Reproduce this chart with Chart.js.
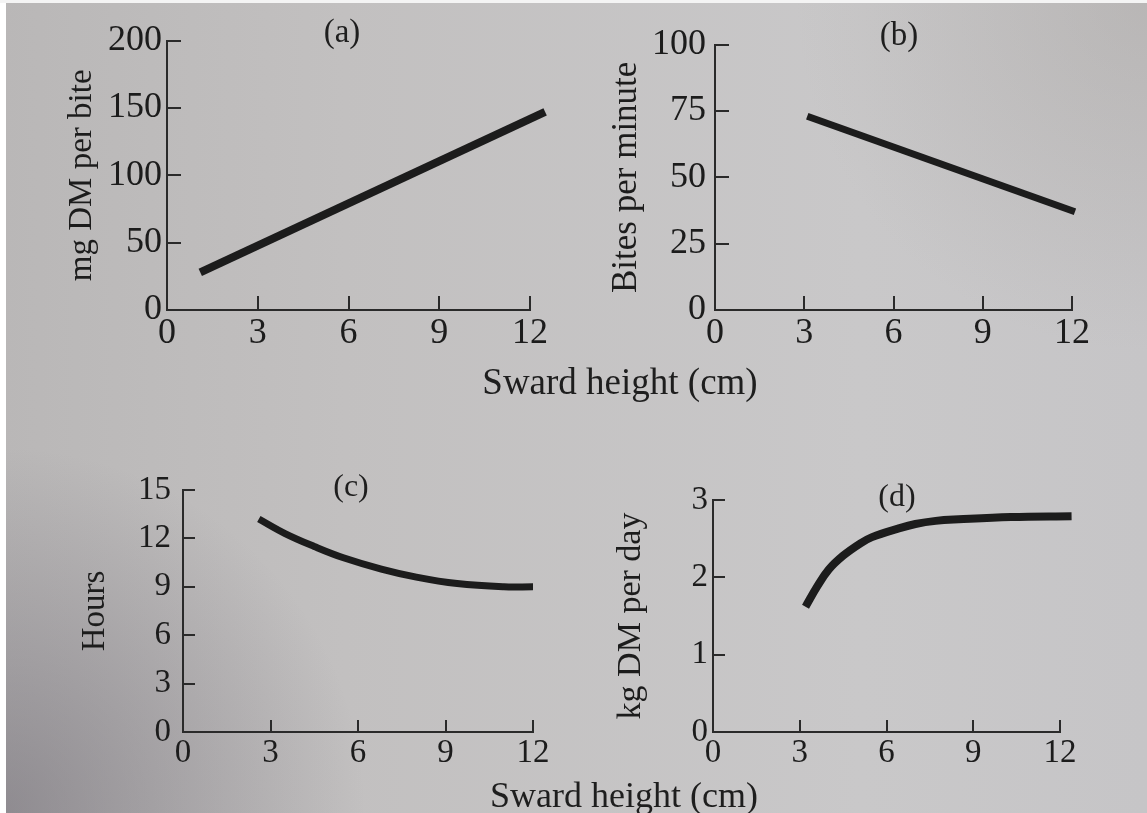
<!DOCTYPE html>
<html>
<head>
<meta charset="utf-8">
<title>Sward height panels</title>
<script src="https://cdn.jsdelivr.net/npm/chart.js@4.4.1/dist/chart.umd.min.js"></script>
<style>
  html, body { margin: 0; padding: 0; }
  #page {
    position: relative;
    width: 1147px;
    height: 813px;
    overflow: hidden;
    background:
      radial-gradient(circle at 0% 100%, rgba(100, 95, 105, 0.5), rgba(100, 95, 105, 0) 26%),
      radial-gradient(circle at 100% 0%, rgba(160, 155, 150, 0.35), rgba(160, 155, 150, 0) 25%),
      linear-gradient(to right, #b9b7b7 0%, #c2c0c0 30%, #c9c8c9 75%, #c6c5c7 100%);
  }
  #page::before {
    content: '';
    position: absolute;
    left: 0; top: 0; bottom: 0;
    width: 6px;
    background: #fff;
  }
  #page::after {
    content: '';
    position: absolute;
    left: 0; top: 0; right: 0;
    height: 3px;
    background: #f4f4f4;
  }
  canvas { position: absolute; left: 0; top: 0; pointer-events: none; }
  .txt {
    position: absolute;
    transform: translate(-50%, -50%);
    font-family: "Liberation Serif", "DejaVu Serif", serif;
    color: #1e1e1e;
    white-space: nowrap;
  }
</style>
</head>
<body>
<div id="page">
  <canvas id="chartA" width="1147" height="813"></canvas>
  <canvas id="chartB" width="1147" height="813"></canvas>
  <canvas id="chartC" width="1147" height="813"></canvas>
  <canvas id="chartD" width="1147" height="813"></canvas>
  <div class="txt" style="left:342px; top:31px; font-size:33px;">(a)</div>
  <div class="txt" style="left:899px; top:34px; font-size:33px;">(b)</div>
  <div class="txt" style="left:351px; top:485px; font-size:32px;">(c)</div>
  <div class="txt" style="left:897px; top:495px; font-size:32px;">(d)</div>
  <div class="txt" style="left:620px; top:381px; font-size:37px;">Sward height (cm)</div>
  <div class="txt" style="left:624px; top:795px; font-size:36px;">Sward height (cm)</div>
</div>
<script>
const PAGE_W = 1147;
const PAGE_H = 813;
const SERIF = '"Liberation Serif", "DejaVu Serif", serif';
const INK = '#1c1c1c';
const AXIS = '#2a2a2a';

// shared x axis
const swardTicks = [0, 3, 6, 9, 12];

// (a) intake per bite
const heightA = [1.1, 12.5];
const biteMassA = [28, 147];
const yTicksA = [0, 50, 100, 150, 200];

// (b) biting rate
const heightB = [3.1, 12.1];
const biteRateB = [73, 37];
const yTicksB = [0, 25, 50, 75, 100];

// (c) grazing time
const heightC = [2.6, 3.5, 4.5, 5.5, 6.8, 8, 9.4, 11, 12];
const hoursC = [13.2, 12.3, 11.5, 10.8, 10.1, 9.6, 9.2, 9.0, 9.0];
const yTicksC = [0, 3, 6, 9, 12, 15];

// (d) daily intake
const heightD = [3.2, 3.6, 4.0, 4.5, 5.1, 5.5, 6.4, 7.0, 7.7, 8.5, 10.3, 12.4];
const intakeD = [1.62, 1.88, 2.10, 2.28, 2.44, 2.52, 2.63, 2.69, 2.73, 2.75, 2.78, 2.79];
const yTicksD = [0, 1, 2, 3];

function pairs(xs, ys) {
  return xs.map((x, i) => ({ x: x, y: ys[i] }));
}

function fixedTicks(values) {
  return (scale) => {
    scale.ticks = values.map((v) => ({ value: v }));
  };
}

function makePanel(id, p) {
  const xHeight = 45;
  return new Chart(document.getElementById(id), {
    type: 'line',
    data: {
      datasets: [{
        data: p.points,
        borderColor: INK,
        borderWidth: p.lineWidth,
        pointRadius: 0,
        tension: p.smooth ? 0.4 : 0,
        borderCapStyle: 'butt',
        borderJoinStyle: 'round',
        clip: false,
        fill: false,
      }],
    },
    options: {
      responsive: false,
      animation: false,
      events: [],
      layout: {
        padding: {
          left: p.left - p.yWidth,
          top: p.top,
          right: PAGE_W - p.right,
          bottom: PAGE_H - p.bottom - xHeight,
        },
      },
      plugins: {
        legend: { display: false },
        tooltip: { enabled: false },
      },
      scales: {
        x: {
          type: 'linear',
          min: 0,
          max: 12,
          afterBuildTicks: fixedTicks(swardTicks),
          afterFit: (scale) => { scale.height = xHeight; },
          grid: { drawOnChartArea: false, tickLength: -p.tickLen, color: AXIS, lineWidth: 2 },
          border: { color: AXIS, width: 2 },
          ticks: {
            color: INK,
            font: { family: SERIF, size: p.tickSize },
            padding: p.xPad,
            maxRotation: 0,
            autoSkip: false,
          },
        },
        y: {
          type: 'linear',
          min: 0,
          max: p.yMax,
          afterBuildTicks: fixedTicks(p.yTicks),
          afterFit: (scale) => { scale.width = p.yWidth; },
          grid: { drawOnChartArea: false, tickLength: -p.tickLen, color: AXIS, lineWidth: 2 },
          border: { color: AXIS, width: 2 },
          ticks: {
            color: INK,
            font: { family: SERIF, size: p.tickSize },
            padding: p.yPad,
            autoSkip: false,
          },
          title: {
            display: true,
            text: p.yTitle,
            color: INK,
            font: { family: SERIF, size: p.titleSize },
            padding: 0,
          },
        },
      },
    },
  });
}

makePanel('chartA', {
  points: pairs(heightA, biteMassA), yTicks: yTicksA, yMax: 200,
  yTitle: 'mg DM per bite', titleSize: 33, tickSize: 36,
  left: 167, top: 34, right: 530, bottom: 310, yWidth: 104,
  tickLen: 14, xPad: 16, yPad: 19, lineWidth: 8, smooth: false,
});

makePanel('chartB', {
  points: pairs(heightB, biteRateB), yTicks: yTicksB, yMax: 100,
  yTitle: 'Bites per minute', titleSize: 35, tickSize: 36,
  left: 715, top: 32, right: 1072, bottom: 310, yWidth: 109,
  tickLen: 14, xPad: 16, yPad: 23, lineWidth: 7, smooth: false,
});

makePanel('chartC', {
  points: pairs(heightC, hoursC), yTicks: yTicksC, yMax: 15,
  yTitle: 'Hours', titleSize: 33, tickSize: 33,
  left: 183, top: 490, right: 533, bottom: 732, yWidth: 107,
  tickLen: 12, xPad: 14, yPad: 24, lineWidth: 7, smooth: true,
});

makePanel('chartD', {
  points: pairs(heightD, intakeD), yTicks: yTicksD, yMax: 3,
  yTitle: 'kg DM per day', titleSize: 34, tickSize: 33,
  left: 713, top: 500, right: 1060, bottom: 732, yWidth: 102,
  tickLen: 12, xPad: 14, yPad: 17, lineWidth: 8, smooth: true,
});
</script>
</body>
</html>
